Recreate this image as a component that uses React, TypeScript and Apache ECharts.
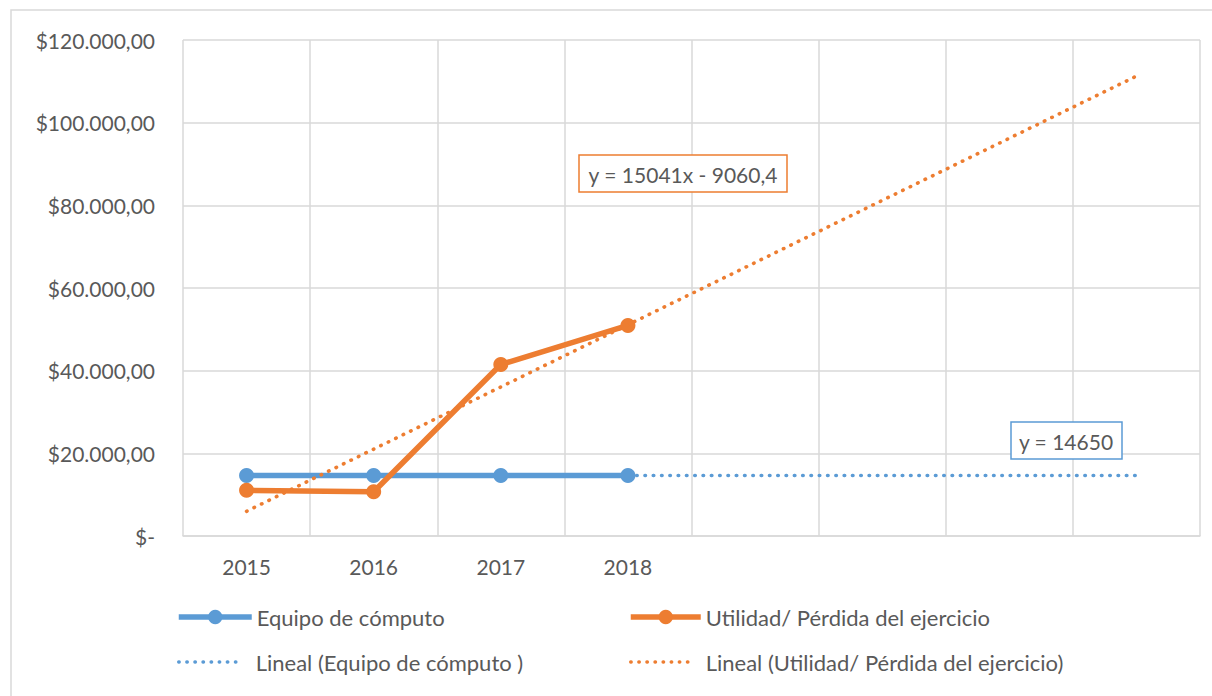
import React, { useEffect, useRef } from "react";
import * as echarts from "echarts";

const categories = ["2015", "2016", "2017", "2018", "", "", "", ""];
const equipoName = "Equipo de cómputo";
const utilidadName = "Utilidad/ Pérdida del ejercicio";
const equipoTrendName = "Lineal (Equipo de cómputo )";
const utilidadTrendName = "Lineal (Utilidad/ Pérdida del ejercicio)";
const equipoValues = [14650, 14650, 14650, 14650];
const utilidadValues = [11050, 10700, 41500, 50950];
// trend line equations shown on the chart (x = 1 for 2015)
const equipoTrendConst = 14650;
const utilidadSlope = 15041;
const utilidadIntercept = -9060.4;
const equipoEqText = "y = 14650";
const utilidadEqText = "y = 15041x - 9060,4";
const yTicksMax = 120000;
const yTicksStep = 20000;

const BLUE = "#5B9BD5";
const ORANGE = "#ED7D31";
const TEXT = "#595959";
const GRID = "#D9D9D9";
const FONT = "Lato, 'Open Sans', sans-serif";

function fmtMoney(v: number): string {
  if (v === 0) return "$-";
  const s = Math.round(v).toString().replace(/\B(?=(\d{3})+(?!\d))/g, ".");
  return "$" + s + ",00";
}

export default function App() {
  const ref = useRef<HTMLDivElement>(null);
  useEffect(() => {
    if (!ref.current) return;
    const chart = echarts.init(ref.current, null, { renderer: "svg" });
    const lastIdx = categories.length - 1;
    const utilTrend = [
      [0, utilidadSlope * 1 + utilidadIntercept],
      [lastIdx, utilidadSlope * (lastIdx + 1) + utilidadIntercept],
    ];
    const eqTrend = [
      [0, equipoTrendConst],
      [lastIdx, equipoTrendConst],
    ];
    const dotted = { type: [0.5, 7.8] as any, cap: "round" as any, width: 3.6 };
    const legendDotted = { width: 3.4, type: [0.5, 7.6], cap: "round" };
    const legendBase = {
      itemWidth: 70,
      itemHeight: 15,
      itemGap: 0,
      padding: 0,
      textStyle: { color: TEXT, fontSize: 22, fontFamily: FONT, padding: 0 },
      selectedMode: false,
    };
    chart.setOption({
      animation: false,
      textStyle: { fontFamily: FONT },
      grid: { left: 183, right: 12, top: 40, bottom: 160 },
      xAxis: {
        type: "category",
        data: categories,
        boundaryGap: true,
        axisLine: { lineStyle: { color: GRID, width: 1.5 } },
        axisTick: { show: false },
        axisLabel: { color: TEXT, fontSize: 21, fontFamily: FONT, margin: 20 },
        splitLine: { show: true, lineStyle: { color: GRID, width: 1.5 } },
      },
      yAxis: {
        type: "value",
        min: 0,
        max: yTicksMax,
        interval: yTicksStep,
        axisLine: { show: false },
        axisTick: { show: false },
        axisLabel: {
          color: TEXT,
          fontSize: 21,
          fontFamily: FONT,
          margin: 28,
          formatter: (v: number) => fmtMoney(v),
        },
        splitLine: { lineStyle: { color: GRID, width: 1.5 } },
      },
      legend: [
        {
          ...legendBase,
          itemWidth: 73,
          itemHeight: 18,
          left: 176,
          top: 606,
          data: [{ name: equipoName, lineStyle: { width: 5.5 } }],
        },
        {
          ...legendBase,
          itemHeight: 18,
          left: 628,
          top: 606,
          data: [{ name: utilidadName, lineStyle: { width: 5.5 } }],
        },
        {
          ...legendBase,
          itemWidth: 64,
          left: 177,
          top: 651,
          data: [
            {
              name: equipoTrendName,
              itemStyle: { color: "rgba(0,0,0,0)", borderWidth: 0 },
              lineStyle: { ...legendDotted, color: BLUE },
            },
          ],
          textStyle: { ...legendBase.textStyle, padding: [0, 0, 0, 8] },
        },
        {
          ...legendBase,
          itemWidth: 63,
          left: 629,
          top: 651,
          data: [
            {
              name: utilidadTrendName,
              itemStyle: { color: "rgba(0,0,0,0)", borderWidth: 0 },
              lineStyle: { ...legendDotted, color: ORANGE },
            },
          ],
          textStyle: { ...legendBase.textStyle, padding: [0, 0, 0, 7] },
        },
      ],
      series: [
        {
          name: equipoTrendName,
          type: "line",
          data: eqTrend,
          symbol: "none",
          lineStyle: { color: BLUE, ...dotted },
          itemStyle: { color: BLUE },
          z: 1,
        },
        {
          name: equipoName,
          type: "line",
          data: equipoValues,
          symbol: "circle",
          symbolSize: 15,
          lineStyle: { color: BLUE, width: 5.5 },
          itemStyle: { color: BLUE },
          z: 2,
        },
        {
          name: utilidadName,
          type: "line",
          data: utilidadValues,
          symbol: "circle",
          symbolSize: 15,
          lineStyle: { color: ORANGE, width: 5.5 },
          itemStyle: { color: ORANGE },
          z: 3,
        },
        {
          name: utilidadTrendName,
          type: "line",
          data: utilTrend,
          symbol: "none",
          lineStyle: { color: ORANGE, ...dotted },
          itemStyle: { color: ORANGE },
          z: 4,
        },
      ],
      graphic: [
        {
          type: "rect",
          shape: { x: 11, y: 10, width: 1215, height: 700 },
          style: { fill: "none", stroke: GRID, lineWidth: 1.5 },
          silent: true,
        },
        {
          type: "rect",
          shape: { x: 579, y: 155, width: 208, height: 37 },
          style: { fill: "#fff", stroke: ORANGE, lineWidth: 1.5 },
          z: 10,
        },
        {
          type: "text",
          x: 683,
          y: 174,
          style: {
            text: utilidadEqText,
            fill: TEXT,
            fontSize: 21,
            fontFamily: FONT,
            align: "center",
            verticalAlign: "middle",
          },
          z: 11,
        },
        {
          type: "rect",
          shape: { x: 1011, y: 422, width: 111, height: 37 },
          style: { fill: "#fff", stroke: BLUE, lineWidth: 1.5 },
          z: 10,
        },
        {
          type: "text",
          x: 1066,
          y: 441,
          style: {
            text: equipoEqText,
            fill: TEXT,
            fontSize: 21,
            fontFamily: FONT,
            align: "center",
            verticalAlign: "middle",
          },
          z: 11,
        },
      ],
    });
    return () => chart.dispose();
  }, []);
  return (
    <div
      ref={ref}
      style={{ position: "absolute", left: 0, top: 0, width: 1212, height: 696 }}
    />
  );
}
